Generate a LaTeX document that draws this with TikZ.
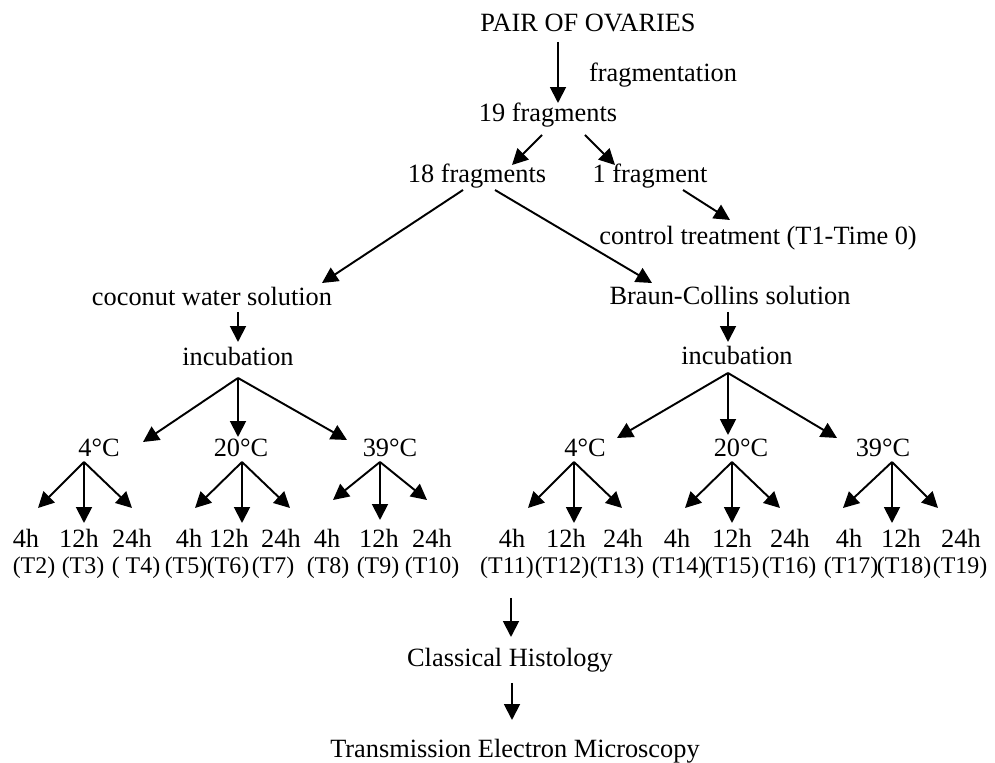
\documentclass[tikz,border=0pt]{standalone}
\usepackage{fontspec}
\setmainfont{Liberation Serif}
\usetikzlibrary{arrows.meta,calc}

\begin{document}
\begin{tikzpicture}[x=0.02cm,y=-0.02cm]
\tikzset{etiq/.style={anchor=base, inner sep=0pt, font=\fontsize{15pt}{18pt}\selectfont},
code/.style={etiq, font=\fontsize{13.6pt}{16pt}\selectfont},
fleche/.style={line width=1.1pt, -{Triangle[length=9pt,width=9pt]}}}
\useasboundingbox (0,0) rectangle (995,763);
\node[etiq] (P) at (588,32) {PAIR OF OVARIES};
\node[etiq] (Fr) at (663,82) {fragmentation};
\node[etiq] (F19) at (548,122) {19 fragments};
\node[etiq] (F18) at (477,183) {18 fragments};
\node[etiq] (F1) at (650,183) {1 fragment};
\node[etiq] (CT) at (758,245) {control treatment (T1-Time 0)};
\node[etiq] (CW) at (212,306) {coconut water solution};
\node[etiq] (BC) at (730,305) {Braun-Collins solution};
\node[etiq] (I1) at (238,366) {incubation};
\node[etiq] (I2) at (737,365) {incubation};
\node[etiq] (A1) at (99,457) {4°C};
\node[etiq] (A2) at (241,457) {20°C};
\node[etiq] (A3) at (390,457) {39°C};
\node[etiq] (B1) at (585,457) {4°C};
\node[etiq] (B2) at (741,457) {20°C};
\node[etiq] (B3) at (883,457) {39°C};
\node[etiq] (H1) at (26,548) {4h};
\node[etiq] (H2) at (79,548) {12h};
\node[etiq] (H3) at (132,548) {24h};
\node[etiq] (H4) at (189,548) {4h};
\node[etiq] (H5) at (229,548) {12h};
\node[etiq] (H6) at (281,548) {24h};
\node[etiq] (H7) at (327,548) {4h};
\node[etiq] (H8) at (379,548) {12h};
\node[etiq] (H9) at (432,548) {24h};
\node[etiq] (H10) at (512,548) {4h};
\node[etiq] (H11) at (566,548) {12h};
\node[etiq] (H12) at (623,548) {24h};
\node[etiq] (H13) at (677,548) {4h};
\node[etiq] (H14) at (732,548) {12h};
\node[etiq] (H15) at (790,548) {24h};
\node[etiq] (H16) at (849,548) {4h};
\node[etiq] (H17) at (901,548) {12h};
\node[etiq] (H18) at (961,548) {24h};
\node[code] (T2) at (34,574) {(T2)};
\node[code] (T3) at (83,574) {(T3)};
\node[code] (T4) at (136,574) {( T4)};
\node[code] (T5) at (186,574) {(T5)};
\node[code] (T6) at (228,574) {(T6)};
\node[code] (T7) at (273,574) {(T7)};
\node[code] (T8) at (328,574) {(T8)};
\node[code] (T9) at (378,574) {(T9)};
\node[code] (T10) at (432,574) {(T10)};
\node[code] (T11) at (507,574) {(T11)};
\node[code] (T12) at (562,574) {(T12)};
\node[code] (T13) at (617,574) {(T13)};
\node[code] (T14) at (679,574) {(T14)};
\node[code] (T15) at (732,574) {(T15)};
\node[code] (T16) at (789,574) {(T16)};
\node[code] (T17) at (851,574) {(T17)};
\node[code] (T18) at (904,574) {(T18)};
\node[code] (T19) at (960,574) {(T19)};
\node[etiq] (CH) at (510,667) {Classical Histology};
\node[etiq] (TEM) at (515,758) {Transmission Electron Microscopy};
\coordinate (S) at (511,598);
\draw[fleche] ($(P.base)+(-30,10)$) -- ($(F19.base)+(10,-19)$);
\draw[fleche] ($(F19.base)+(-6,13)$) -- ($(F18.base)+(35,-18)$);
\draw[fleche] ($(F19.base)+(37,13)$) -- ($(F1.base)+(-35,-18)$);
\draw[fleche] ($(F1.base)+(33,7)$) -- ($(CT.base)+(-28,-25)$);
\draw[fleche] ($(F18.base)+(-14,7)$) -- ($(CW.base)+(110,-23)$);
\draw[fleche] ($(F18.base)+(18,7)$) -- ($(BC.base)+(-78,-22)$);
\draw[fleche] ($(CW.base)+(26,6)$) -- ($(I1.base)+(0,-24)$);
\draw[fleche] ($(BC.base)+(-2,7)$) -- ($(I2.base)+(-9,-23)$);
\draw[fleche] ($(I1.base)+(0,12)$) -- ($(A1.base)+(44,-15)$);
\draw[fleche] ($(I1.base)+(0,12)$) -- ($(A2.base)+(-3,-20)$);
\draw[fleche] ($(I1.base)+(0,12)$) -- ($(A3.base)+(-43,-17)$);
\draw[fleche] ($(I2.base)+(-9,8)$) -- ($(B1.base)+(32,-19)$);
\draw[fleche] ($(I2.base)+(-9,8)$) -- ($(B2.base)+(-13,-22)$);
\draw[fleche] ($(I2.base)+(-9,8)$) -- ($(B3.base)+(-46,-19)$);
\draw[fleche] ($(A1.base)+(-15,5)$) -- ($(H1.base)+(12,-40)$);
\draw[fleche] ($(A1.base)+(-15,5)$) -- ($(H2.base)+(5,-25)$);
\draw[fleche] ($(A1.base)+(-15,5)$) -- ($(H3.base)+(0,-40)$);
\draw[fleche] ($(A2.base)+(1,5)$) -- ($(H4.base)+(6,-40)$);
\draw[fleche] ($(A2.base)+(1,5)$) -- ($(H5.base)+(13,-25)$);
\draw[fleche] ($(A2.base)+(1,5)$) -- ($(H6.base)+(9,-40)$);
\draw[fleche] ($(A3.base)+(-10,5)$) -- ($(H7.base)+(6,-48)$);
\draw[fleche] ($(A3.base)+(-10,5)$) -- ($(H8.base)+(1,-28)$);
\draw[fleche] ($(A3.base)+(-10,5)$) -- ($(H9.base)+(-5,-48)$);
\draw[fleche] ($(B1.base)+(-11,5)$) -- ($(H10.base)+(16,-40)$);
\draw[fleche] ($(B1.base)+(-11,5)$) -- ($(H11.base)+(8,-25)$);
\draw[fleche] ($(B1.base)+(-11,5)$) -- ($(H12.base)+(-1,-40)$);
\draw[fleche] ($(B2.base)+(-9,5)$) -- ($(H13.base)+(8,-40)$);
\draw[fleche] ($(B2.base)+(-9,5)$) -- ($(H14.base)+(0,-25)$);
\draw[fleche] ($(B2.base)+(-9,5)$) -- ($(H15.base)+(-10,-40)$);
\draw[fleche] ($(B3.base)+(9,5)$) -- ($(H16.base)+(-6,-40)$);
\draw[fleche] ($(B3.base)+(9,5)$) -- ($(H17.base)+(-9,-25)$);
\draw[fleche] ($(B3.base)+(9,5)$) -- ($(H18.base)+(-23,-40)$);
\draw[fleche] (S) -- ($(CH.base)+(1,-30)$);
\draw[fleche] ($(CH.base)+(2,16)$) -- ($(TEM.base)+(-3,-38)$);
\end{tikzpicture}
\end{document}
